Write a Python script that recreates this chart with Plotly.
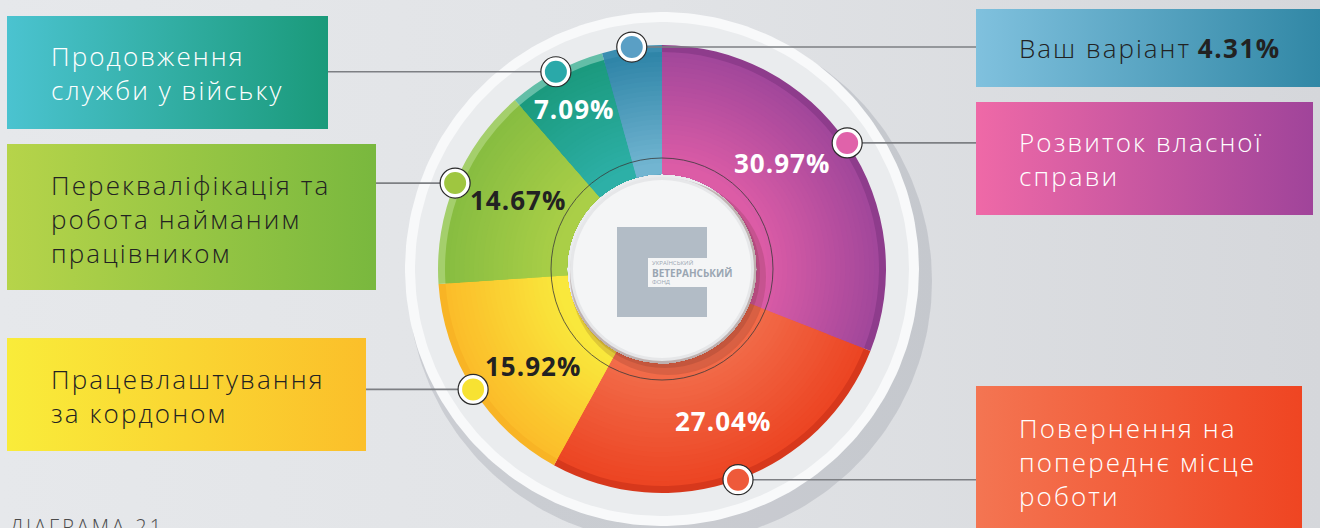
import numpy as np
import plotly.graph_objects as go

# ---------------- data ----------------
categories = [
    "Розвиток власної справи",
    "Повернення на попереднє місце роботи",
    "Працевлаштування за кордоном",
    "Перекваліфікація та робота найманим працівником",
    "Продовження служби у війську",
    "Ваш варіант",
]
values = [30.97, 27.04, 15.92, 14.67, 7.09, 4.31]
box_lines = [
    ["Розвиток власної", "справи"],
    ["Повернення на", "попереднє місце", "роботи"],
    ["Працевлаштування", "за кордоном"],
    ["Перекваліфікація та", "робота найманим", "працівником"],
    ["Продовження", "служби у війську"],
    ["Ваш варіант"],
]
caption = "ДІАГРАМА 21"
logo_lines = ["УКРАЇНСЬКИЙ", "ВЕТЕРАНСЬКИЙ", "ФОНД"]

# ---------------- style ----------------
W, H = 1320, 528
CX, CY = 662, 269
R, R_HOLE = 224, 95
FONT = "Open Sans"

inner_col = ["#dc5ca6", "#f26c4a", "#f9e83c", "#aacf47", "#2db0a7", "#72b5d1"]
outer_col = ["#a2479b", "#ec4523", "#fbbd2a", "#88bd41", "#1b9a7e", "#2f85a8"]
rim_col = ["#8e3c8c", "#d7381c", "#f8b425", "#a4cf6c", "#63bea7", "#3a8db0"]
marker_col = ["#e062aa", "#ee5a3a", "#f7e232", "#9fc640", "#2aa9a9", "#5a9fc5"]
pct_col = ["white", "white", "#222222", "#222222", "white", None]
pct_r = [160, 164, 161, 160, 183, 0]
pct_dtheta = [-7.2, -2.1, -4.5, 2.9, -0.5, 0]

# boxes: x0, y0, x1, y1, left colour, right colour, text colour, text centre y, side
boxes = [
    (976, 102, 1313, 215, "#ef69a7", "#a0449a", "white", 159, "right"),
    (976, 386, 1302, 540, "#f47552", "#ef4522", "white", 462, "right"),
    (7, 338, 366, 451, "#f9ec3a", "#fbbf2a", "#222222", 396, "left"),
    (7, 144, 376, 290, "#b6d44a", "#79b83e", "#222222", 219, "left"),
    (7, 16, 328, 129, "#4bc3d0", "#1a9a7a", "white", 73, "left"),
    (976, 9, 1330, 87, "#80c1de", "#2f86a4", "#222222", 48, "right"),
]


def spaced(txt, px):
    return f'<span style="letter-spacing:{px}px">{txt}</span>'


def circle_xy(cx, cy, r, n=240):
    t = np.linspace(0, 2 * np.pi, n)
    return cx + r * np.cos(t), cy + r * np.sin(t)


def mix(c1, c2, t):
    a = [int(c1[i:i + 2], 16) for i in (1, 3, 5)]
    b = [int(c2[i:i + 2], 16) for i in (1, 3, 5)]
    return "#%02x%02x%02x" % tuple(round(a[k] + (b[k] - a[k]) * t) for k in range(3))


def domain_for(r):
    return dict(x=[(CX - r) / W, (CX + r) / W], y=[(H - CY - r) / H, (H - CY + r) / H])


fig = go.Figure()

# background gradient
fig.add_trace(go.Scatter(
    x=[0, W, W, 0, 0], y=[0, 0, H, H, 0], mode="lines", line=dict(width=0),
    fill="toself", fillgradient=dict(type="horizontal", start=0, stop=W,
                                     colorscale=[[0, "#e6e8eb"], [0.5, "#e1e3e6"], [1, "#d5d7db"]]),
    hoverinfo="skip", showlegend=False))

# outer ring behind the pie
for (dx, dy, rr, col) in [(8, 12, 262, "rgba(120,125,135,0.22)"),
                          (0, 0, 257, "#f8f9fa"),
                          (0, 0, 247, "#eaecee")]:
    xs, ys = circle_xy(CX + dx, CY + dy, rr)
    fig.add_trace(go.Scatter(x=xs, y=ys, mode="lines", line=dict(width=0), fill="toself",
                             fillcolor=col, hoverinfo="skip", showlegend=False))

# pie: rim ring + radial bands
common = dict(labels=categories, values=values, sort=False, direction="clockwise",
              rotation=0, textinfo="none", hoverinfo="skip", showlegend=False)
fig.add_trace(go.Pie(**common, hole=R_HOLE / R, domain=domain_for(R),
                     marker=dict(colors=rim_col, line=dict(width=0))))
band_r = np.linspace(217, 106, 24)
for k, rr in enumerate(band_r):
    t = k / (len(band_r) - 1)
    cols = [mix(outer_col[i], inner_col[i], t) for i in range(len(values))]
    fig.add_trace(go.Pie(**common, hole=R_HOLE / rr, domain=domain_for(rr),
                         marker=dict(colors=cols, line=dict(width=0))))

shapes = []
annotations = []

# slice geometry from data
total = sum(values)
cum = np.cumsum([0] + values[:-1])
mid_deg = [(c + v / 2) / total * 360 for c, v in zip(cum, values)]

# center decorations
shapes.append(dict(type="circle", xref="x", yref="y", x0=CX - 111, x1=CX + 111,
                   y0=CY - 111, y1=CY + 111, line=dict(color="#3a3a3a", width=0.8)))
for (dx, dy, rr, col) in [(6, 8, 98, "rgba(90,40,30,0.16)"), (3, 4, 95, "rgba(90,40,30,0.16)"),
                          (0, 0, 92, "#e6e7e9"), (0, 0, 89, "#f4f5f6")]:
    shapes.append(dict(type="circle", xref="x", yref="y", x0=CX + dx - rr, x1=CX + dx + rr,
                       y0=CY + dy - rr, y1=CY + dy + rr, fillcolor=col, line=dict(width=0)))
# logo
shapes.append(dict(type="rect", xref="x", yref="y", x0=617, x1=707, y0=227, y1=317,
                   fillcolor="#b2bcc6", line=dict(width=0)))
shapes.append(dict(type="rect", xref="x", yref="y", x0=648, x1=708, y0=258, y1=287,
                   fillcolor="#f4f5f6", line=dict(width=0)))
for txt, yy, sz, bold in [(logo_lines[0], 263, 6, False), (logo_lines[1], 273, 10, True),
                          (logo_lines[2], 282, 6, False)]:
    annotations.append(dict(x=651, y=yy, xref="x", yref="y", xanchor="left", yanchor="middle",
                            text=f"<b>{txt}</b>" if bold else txt, showarrow=False,
                            borderpad=0,
                            font=dict(family=FONT, size=sz, color="#9aa6b2")))

# connectors, markers, boxes, texts
for i, (cat, v) in enumerate(zip(categories, values)):
    th = np.radians(mid_deg[i])
    mx, my = CX + R * np.sin(th), CY - R * np.cos(th)
    x0, y0, x1, y1, cl, cr, tc, ty, side = boxes[i]
    # box
    fig.add_trace(go.Scatter(
        x=[x0, x1, x1, x0, x0], y=[y0, y0, y1, y1, y0], mode="lines", line=dict(width=0),
        fill="toself", fillgradient=dict(type="horizontal", start=x0, stop=x1,
                                         colorscale=[[0, cl], [1, cr]]),
        hoverinfo="skip", showlegend=False))
    # connector line
    edge = x0 if side == "right" else x1
    shapes.append(dict(type="line", xref="x", yref="y", x0=mx, x1=edge, y0=my, y1=my,
                       line=dict(color="#7d7f83", width=1.6)))
    # marker
    for rr, fc, lc, lw in [(15, "white", "#2a2a2a", 1.2), (11, marker_col[i], marker_col[i], 0)]:
        shapes.append(dict(type="circle", xref="x", yref="y", x0=mx - rr, x1=mx + rr,
                           y0=my - rr, y1=my + rr, fillcolor=fc,
                           line=dict(color=lc, width=lw)))
    # box text
    if cat == "Ваш варіант":
        txt = spaced(box_lines[i][0], 2) + " " + spaced(f"<b>{v:.2f}%</b>", 1.5)
    else:
        txt = "<br>".join(spaced(l, 2.1) for l in box_lines[i])
    annotations.append(dict(x=49 if side == "left" else 1017, y=ty, xref="x", yref="y",
                            xanchor="left", yanchor="middle", align="left", text=txt,
                            showarrow=False,
                            font=dict(family=FONT, size=26, color=tc, weight=300)))
    # percent label inside slice
    if pct_col[i]:
        tl = np.radians(mid_deg[i] + pct_dtheta[i])
        annotations.append(dict(x=CX + pct_r[i] * np.sin(tl), y=CY - pct_r[i] * np.cos(tl),
                                xref="x", yref="y", text=spaced(f"<b>{v:.2f}%</b>", 1),
                                showarrow=False,
                                font=dict(family=FONT, size=26, color=pct_col[i])))

annotations.append(dict(x=8, y=511, xref="x", yref="y", xanchor="left", yanchor="top",
                        text=spaced(caption, 3), showarrow=False,
                        font=dict(family=FONT, size=20, color="#4a4a4a", weight=300)))

fig.update_layout(
    width=W, height=H, margin=dict(l=0, r=0, t=0, b=0),
    paper_bgcolor="#e3e5e8", plot_bgcolor="#e3e5e8",
    xaxis=dict(range=[0, W], visible=False, fixedrange=True),
    yaxis=dict(range=[H, 0], visible=False, fixedrange=True),
    shapes=shapes, annotations=annotations, showlegend=False,
)

fig.write_html("out.html")
